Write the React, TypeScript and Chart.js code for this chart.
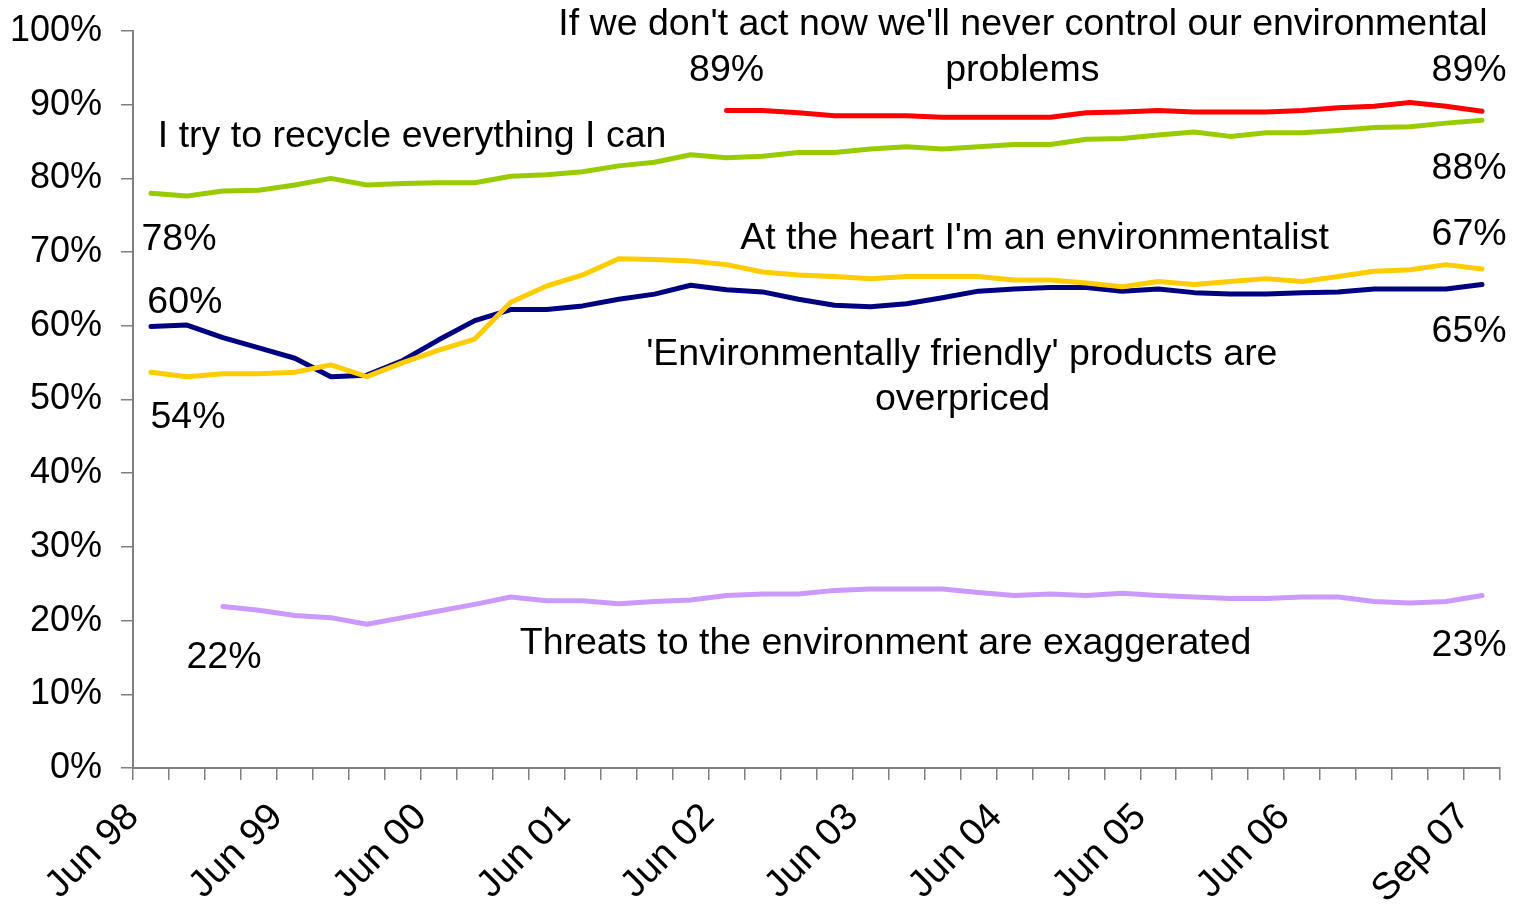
import React, { useEffect, useRef } from 'react';
import { Chart, registerables } from 'chart.js';

Chart.register(...registerables);

const quarters = [
  'Jun 98', 'Sep 98', 'Dec 98',
  'Mar 99', 'Jun 99', 'Sep 99', 'Dec 99',
  'Mar 00', 'Jun 00', 'Sep 00', 'Dec 00',
  'Mar 01', 'Jun 01', 'Sep 01', 'Dec 01',
  'Mar 02', 'Jun 02', 'Sep 02', 'Dec 02',
  'Mar 03', 'Jun 03', 'Sep 03', 'Dec 03',
  'Mar 04', 'Jun 04', 'Sep 04', 'Dec 04',
  'Mar 05', 'Jun 05', 'Sep 05', 'Dec 05',
  'Mar 06', 'Jun 06', 'Sep 06', 'Dec 06',
  'Mar 07', 'Jun 07', 'Sep 07',
];

const shownTickLabels = ['Jun 98', 'Jun 99', 'Jun 00', 'Jun 01', 'Jun 02', 'Jun 03', 'Jun 04', 'Jun 05', 'Jun 06', 'Sep 07'];

const actNow = [
  null, null, null, null, null, null, null, null, null, null, null, null, null, null, null, null,
  89.2, 89.2, 88.9, 88.5, 88.5, 88.5, 88.3, 88.3, 88.3, 88.3, 88.9, 89.0, 89.2, 89.0, 89.0, 89.0,
  89.2, 89.6, 89.8, 90.3, 89.8, 89.1,
];

const recycle = [
  78.0, 77.6, 78.3, 78.4, 79.1, 80.0, 79.1, 79.3, 79.4, 79.4, 80.3, 80.5, 80.9, 81.7, 82.2, 83.2,
  82.8, 83.0, 83.5, 83.5, 84.0, 84.3, 84.0, 84.3, 84.6, 84.6, 85.3, 85.4, 85.9, 86.3, 85.7, 86.2,
  86.2, 86.5, 86.9, 87.0, 87.5, 87.9,
];

const heart = [
  53.7, 53.1, 53.5, 53.5, 53.7, 54.7, 53.1, 55.0, 56.7, 58.2, 63.2, 65.4, 66.9, 69.1, 69.0, 68.8,
  68.3, 67.3, 66.9, 66.7, 66.4, 66.7, 66.7, 66.7, 66.2, 66.2, 65.8, 65.3, 66.0, 65.6, 66.0, 66.4,
  66.0, 66.7, 67.4, 67.6, 68.3, 67.7,
];

const overpriced = [
  59.9, 60.1, 58.4, 57.0, 55.6, 53.1, 53.3, 55.3, 58.1, 60.7, 62.2, 62.2, 62.7, 63.6, 64.3, 65.5,
  64.9, 64.6, 63.6, 62.8, 62.6, 63.0, 63.8, 64.7, 65.0, 65.2, 65.2, 64.7, 65.0, 64.5, 64.3, 64.3,
  64.5, 64.6, 65.0, 65.0, 65.0, 65.6,
];

const threats = [
  null, null,
  21.9, 21.4, 20.7, 20.4, 19.5, 20.4, 21.3, 22.2, 23.2, 22.7, 22.7, 22.3, 22.6, 22.8, 23.4, 23.6,
  23.6, 24.1, 24.3, 24.3, 24.3, 23.8, 23.4, 23.6, 23.4, 23.7, 23.4, 23.2, 23.0, 23.0, 23.2, 23.2,
  22.6, 22.4, 22.6, 23.4,
];

// Text annotations, placed in data coordinates (category index, value)
const annotations = [
  { text: "If we don't act now we'll never control our environmental", x: 24.24, y: 99.46, align: 'center' },
  { text: 'problems', x: 24.22, y: 93.22, align: 'center' },
  { text: '89%', x: 16.0, y: 93.22, align: 'center' },
  { text: '89%', x: 36.64, y: 93.22, align: 'center' },
  { text: 'I try to recycle everything I can', x: 0.19, y: 84.27, align: 'left' },
  { text: '88%', x: 36.64, y: 79.93, align: 'center' },
  { text: '78%', x: 0.78, y: 70.31, align: 'center' },
  { text: "At the heart I'm an environmentalist", x: 24.56, y: 70.44, align: 'center' },
  { text: '67%', x: 36.64, y: 70.98, align: 'center' },
  { text: '60%', x: 0.94, y: 61.76, align: 'center' },
  { text: "'Environmentally friendly' products are", x: 22.54, y: 54.71, align: 'center' },
  { text: 'overpriced', x: 22.56, y: 48.61, align: 'center' },
  { text: '65%', x: 36.64, y: 57.83, align: 'center' },
  { text: '54%', x: 1.03, y: 46.17, align: 'center' },
  { text: '22%', x: 2.03, y: 13.63, align: 'center' },
  { text: 'Threats to the environment are exaggerated', x: 20.42, y: 15.53, align: 'center' },
  { text: '23%', x: 36.64, y: 15.25, align: 'center' },
];

const FONT_FAMILY = '"Liberation Sans", Arial, Helvetica, sans-serif';
const AXIS_FONT_SIZE = 36;
const XLABEL_FONT_SIZE = 38;
const NOTE_FONT_SIZE = 37.5;
const AXIS_COLOR = '#808080';

const annotationPlugin = {
  id: 'textAnnotations',
  afterDraw(chart: any) {
    const ctx = chart.ctx;
    const xs = chart.scales.x;
    const ys = chart.scales.y;
    ctx.save();
    ctx.font = `${NOTE_FONT_SIZE}px ${FONT_FAMILY}`;
    ctx.fillStyle = '#000000';
    ctx.textBaseline = 'alphabetic';
    for (const a of annotations) {
      ctx.textAlign = a.align as CanvasTextAlign;
      ctx.fillText(a.text, xs.getPixelForValue(a.x), ys.getPixelForValue(a.y));
    }
    ctx.restore();
  },
};

export default function App() {
  const canvasRef = useRef<HTMLCanvasElement | null>(null);

  useEffect(() => {
    document.body.style.margin = '0';
    const canvas = canvasRef.current;
    if (!canvas) return;
    const lineStyle = {
      borderWidth: 5,
      pointRadius: 0,
      pointHoverRadius: 0,
      tension: 0,
      borderJoinStyle: 'round' as const,
      borderCapStyle: 'round' as const,
      spanGaps: false,
      fill: false,
    };
    const chart = new Chart(canvas, {
      type: 'line',
      data: {
        labels: quarters,
        datasets: [
          { label: 'Act now', data: actNow, borderColor: '#FF0000', ...lineStyle },
          { label: 'Recycle', data: recycle, borderColor: '#99CC00', ...lineStyle },
          { label: 'Heart', data: heart, borderColor: '#FFCC00', ...lineStyle },
          { label: 'Overpriced', data: overpriced, borderColor: '#000080', ...lineStyle },
          { label: 'Threats', data: threats, borderColor: '#CC99FF', ...lineStyle },
        ],
      },
      options: {
        responsive: false,
        animation: false,
        devicePixelRatio: 1,
        layout: { padding: { left: 0, top: 31, right: 23, bottom: 0 } },
        plugins: {
          legend: { display: false },
          tooltip: { enabled: false },
          title: { display: false },
        },
        scales: {
          x: {
            type: 'category',
            offset: true,
            grid: {
              display: true,
              offset: true,
              drawOnChartArea: false,
              drawTicks: true,
              tickLength: 12,
              color: AXIS_COLOR,
              lineWidth: 1.5,
            },
            border: { display: true, color: AXIS_COLOR, width: 2 },
            ticks: {
              autoSkip: false,
              maxRotation: 45,
              minRotation: 45,
              padding: 15,
              labelOffset: -18,
              color: '#000000',
              font: { family: FONT_FAMILY, size: XLABEL_FONT_SIZE },
              callback: (value: any, index: number) =>
                shownTickLabels.includes(quarters[index]) ? quarters[index] : '',
            },
            afterFit: (scale: any) => {
              scale.height = 136;
              scale.paddingLeft = 0;
              scale.paddingRight = 0;
            },
          },
          y: {
            min: 0,
            max: 100,
            grid: {
              display: true,
              drawOnChartArea: false,
              drawTicks: true,
              tickLength: 12,
              color: AXIS_COLOR,
              lineWidth: 1.5,
            },
            border: { display: true, color: AXIS_COLOR, width: 2 },
            ticks: {
              stepSize: 10,
              padding: 19,
              color: '#000000',
              font: { family: FONT_FAMILY, size: AXIS_FONT_SIZE },
              callback: (value: any) => `${value}%`,
            },
            afterFit: (scale: any) => {
              scale.width = 133;
              scale.paddingTop = 0;
              scale.paddingBottom = 0;
            },
          },
        },
      },
      plugins: [annotationPlugin],
    });
    return () => chart.destroy();
  }, []);

  return (
    <div style={{ width: 1523, height: 904, background: '#ffffff' }}>
      <canvas ref={canvasRef} width={1523} height={904} style={{ display: 'block', width: 1523, height: 904 }} />
    </div>
  );
}
